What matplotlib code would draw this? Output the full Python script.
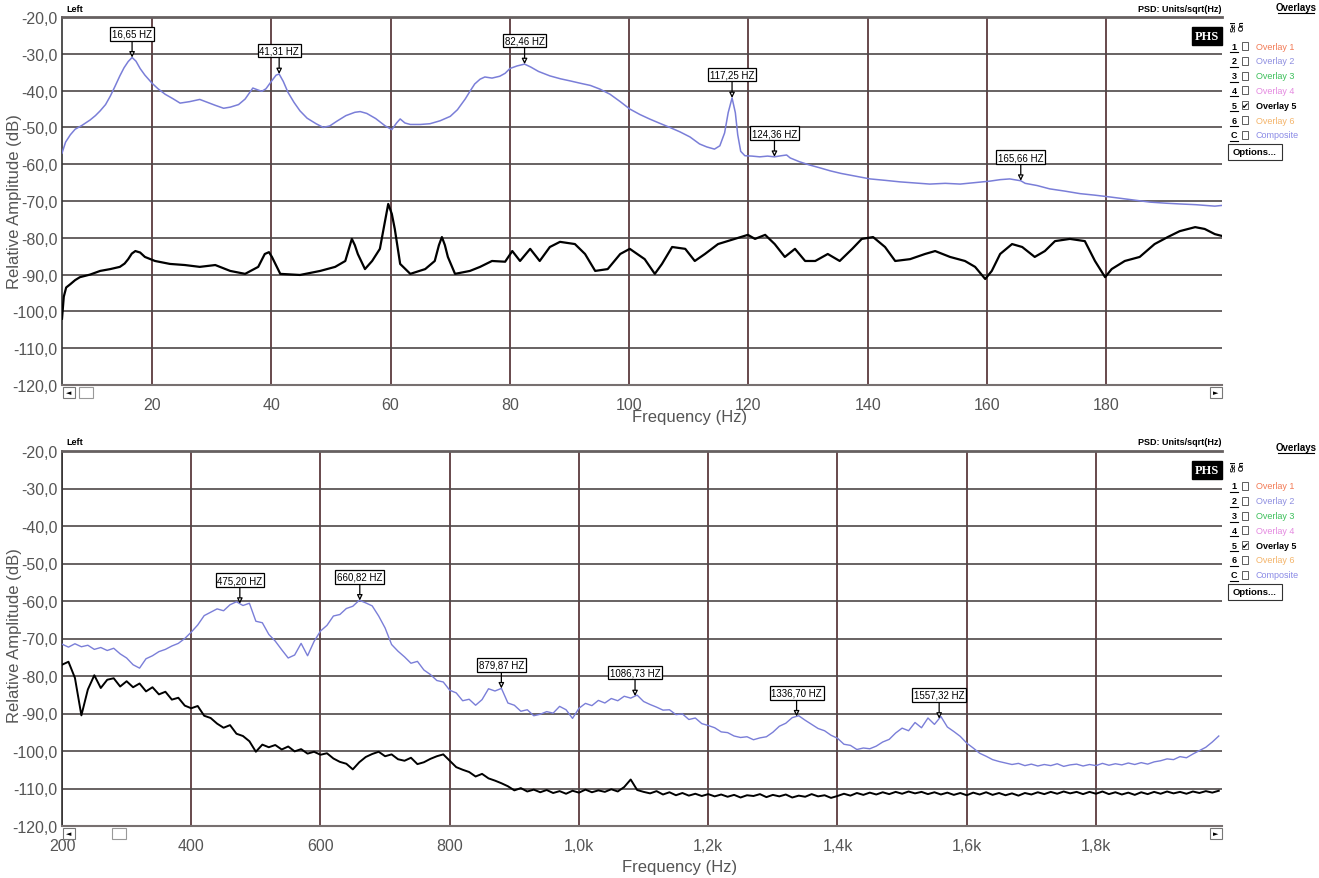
import numpy as np
import matplotlib
matplotlib.use("Agg")
import matplotlib.pyplot as plt
from matplotlib.patches import Rectangle
from matplotlib.lines import Line2D

plt.rcParams["font.family"] = ["Liberation Sans", "DejaVu Sans"]

W, H = 1319, 879

# ---- low band (0-200 Hz) ----
low_blue_hz = [4.9, 5.5, 6.3, 7.1, 8.2, 9.6, 10.5, 11.3, 12.2, 13, 13.8, 14.6, 15.3, 16, 16.65,
               17.3, 18, 18.8, 20, 21, 22.2, 23.5, 24.7, 26.3, 28, 29.3, 30.6, 32, 33.1, 34.5,
               35.6, 36.9, 37.7, 38.4, 39.1, 40, 40.8, 41.31, 42, 42.8, 43.8, 44.8, 46, 47.5,
               48.7, 49.8, 51, 52.5, 54, 54.9, 56, 57.5, 59.1, 60.2, 61, 61.6, 62.4, 63.3, 65,
               66.6, 68.3, 70, 71.2, 72.5, 73.3, 74.1, 75, 75.8, 77, 78.3, 79.2, 80, 81.2, 82.46,
               83.5, 84.8, 86.7, 88.5, 90.2, 91.8, 93.5, 95.1, 96.8, 98.5, 100.1, 101.8, 103.4,
               105, 106.8, 108.5, 110.2, 111.8, 113, 114.3, 115.2, 116, 116.6, 117.25, 117.8,
               118.2, 118.7, 119.4, 120.6, 121.9, 123.2, 124.36, 125.5, 126.4, 127, 128.5, 130.2,
               132, 133.7, 135.5, 137.5, 140.4, 143, 145.4, 148, 150.4, 153, 155.5, 158, 160.5,
               162.2, 163.8, 165.66, 166.4, 168.4, 170.5, 173, 175.6, 178, 180.6, 184, 187.3,
               190, 192.3, 195, 198.2, 199.4]
low_blue_db = [-57, -54, -52, -50.5, -49.5, -48, -46.8, -45.5, -43.8, -41.5, -38.8, -36, -33.8,
               -32.1, -31, -32, -34, -35.8, -38, -39.5, -41, -42.2, -43.4, -43, -42.4, -43.2,
               -44, -44.8, -44.5, -43.8, -42.3, -39.3, -39.8, -40.2, -39.5, -37.5, -35.8, -35.5,
               -37.5, -40.5, -43.2, -45.5, -47.5, -49, -50, -49.6, -48.3, -46.8, -45.9, -45.7,
               -46.2, -47.6, -49.6, -50.6, -48.8, -47.7, -48.8, -49.2, -49.2, -49, -48.2, -47,
               -45.2, -42.3, -40.2, -38.2, -36.9, -36.3, -36.6, -36.1, -35.3, -34, -33.3, -32.8,
               -33.6, -34.8, -36, -36.8, -37.4, -38, -38.6, -39.6, -41, -43, -45, -46.5, -47.7,
               -48.8, -50, -51.2, -52.6, -54.5, -55.3, -55.9, -55, -51.5, -46, -42, -46, -52,
               -56.5, -57.7, -57.8, -58, -57.8, -58, -57.7, -57.5, -58.3, -59.3, -60.2, -61,
               -61.8, -62.5, -63.1, -64, -64.4, -64.8, -65.1, -65.4, -65.2, -65.4, -65, -64.6,
               -64.2, -64, -64.5, -65.2, -65.8, -66.7, -67.3, -68, -68.4, -68.9, -69.6, -70.3,
               -70.6, -70.8, -71, -71.4, -71.2]

low_black_hz = [4.9, 5.2, 5.6, 6.3, 7.1, 7.9, 9.6, 11.3, 13, 14.6, 15.4, 16, 16.6, 17.2, 18, 18.8,
                20.5, 23, 25.5, 28, 30.6, 33.1, 35.6, 37.8, 38.9, 39.6, 40.1, 41.5, 44.8, 48.2,
                50.7, 52.4, 53, 53.5, 54, 54.5, 55.7, 56.9, 58.2, 59, 59.6, 60.2, 60.7, 61.6,
                63.3, 65.8, 67.4, 68.1, 68.6, 69.1, 69.6, 70.8, 73.3, 75, 77, 79.2, 80.4, 81.7,
                83.4, 85, 86.7, 88.4, 90.9, 92.6, 94.3, 96.4, 98.5, 100.1, 102.6, 104.3, 105.5,
                107.2, 109.4, 111, 112.7, 114.9, 117.7, 119.9, 121.1, 122.8, 124.4, 126.1, 127.8,
                129.5, 131.2, 133.3, 135.3, 137.4, 139, 140.9, 142.9, 144.6, 147.1, 149.6, 151.3,
                153.8, 156.3, 158, 159.7, 160.8, 162.2, 164.2, 165.9, 168, 169.7, 171.4, 173.9,
                176.4, 178.1, 179.8, 180.9, 183.1, 185.6, 188.1, 190.3, 192.3, 194.9, 196.5,
                198.2, 199.4]
low_black_db = [-102, -96, -93.5, -92.6, -91.5, -90.7, -90, -89, -88.5, -87.9, -87, -85.8, -84.3,
                -83.6, -84, -85.2, -86.3, -87.1, -87.4, -87.9, -87.4, -89, -89.8, -87.9, -84.4,
                -83.9, -85.2, -89.8, -90.1, -89, -87.9, -86.3, -83, -80.3, -82, -84.4, -88.5,
                -86.3, -83, -76, -70.8, -73.5, -77.6, -87.1, -89.8, -88.5, -86.3, -82, -79.8,
                -82, -85.2, -89.8, -89, -87.9, -86.3, -86.5, -83.6, -86.3, -83, -86.3, -82.5,
                -81.1, -81.7, -84.4, -89, -88.5, -84.4, -83, -85.8, -89.8, -87.1, -82.5, -83,
                -86.3, -84.4, -81.7, -80.3, -79.2, -80.3, -79.2, -81.7, -85.2, -83, -86.3, -86.3,
                -84.4, -86.3, -83, -80.3, -79.8, -82.5, -86.3, -85.8, -84.4, -83.6, -85.2, -86.3,
                -87.9, -91.2, -89, -84.4, -81.7, -82.5, -85.2, -83.6, -80.9, -80.3, -80.9, -86.3,
                -90.7, -88.5, -86.3, -85.2, -81.7, -79.8, -78.2, -77.1, -77.6, -79, -79.5]

low_peaks_hz = [16.65, 41.31, 82.46, 117.25, 124.36, 165.66]
low_peak_labels = ["16,65 HZ", "41,31 HZ", "82,46 HZ", "117,25 HZ", "124,36 HZ", "165,66 HZ"]
low_ticks = [20, 40, 60, 80, 100, 120, 140, 160, 180]
low_tick_labels = ["20", "40", "60", "80", "100", "120", "140", "160", "180"]

# ---- high band (200-2000 Hz), 10 Hz bins starting at 200 Hz ----
high_start_hz = 200
high_bin_hz = 10
high_blue_db = [
    -71.5, -72.3, -71.4, -72.2, -71.8, -72.9, -72.4, -73.2, -72.6, -74.1,
    -75.2, -77.0, -77.9, -75.4, -74.6, -73.5, -72.9, -72.0, -71.3, -70.0,
    -68.3, -66.4, -63.9, -63.0, -62.1, -62.6, -61.0, -60.2, -61.2, -60.6,
    -65.4, -65.8, -68.9, -70.7, -73.0, -75.2, -74.4, -71.3, -74.6, -70.8,
    -68.0, -66.5, -64.0, -63.6, -62.0, -61.4, -59.8, -60.5, -61.3, -64.0,
    -67.2, -71.6, -73.4, -74.9, -76.6, -76.1, -78.4, -79.6, -81.2, -81.6,
    -83.8, -84.5, -86.6, -86.2, -87.8, -86.3, -83.4, -84.0, -83.3, -87.2,
    -87.8, -89.4, -89.0, -90.6, -90.2, -89.5, -89.9, -88.1, -89.0, -91.3,
    -88.6, -87.3, -87.9, -86.5, -87.2, -86.0, -86.6, -85.4, -85.9, -85.1,
    -86.8, -87.6, -88.3, -89.1, -89.0, -90.3, -90.1, -91.6, -91.2, -92.7,
    -93.2, -93.8, -94.9, -95.1, -96.0, -96.4, -96.2, -97.0, -96.5, -96.2,
    -95.0, -93.4, -92.6, -91.1, -90.6, -91.8, -92.9, -94.0, -94.6, -95.8,
    -96.6, -98.2, -98.5, -99.6, -99.2, -99.4, -98.7, -97.6, -96.9, -95.2,
    -93.9, -94.6, -92.4, -93.8, -91.2, -92.9, -90.8, -93.6, -94.8, -96.1,
    -97.9, -99.2, -100.6, -101.4, -102.3, -102.8, -103.2, -103.6, -103.3, -103.9,
    -103.5, -104.0, -103.6, -103.9, -103.4, -104.1, -103.7, -103.5, -104.0, -103.6,
    -103.9, -103.3, -103.8, -103.4, -103.7, -103.2, -103.6, -103.1, -103.5, -102.9,
    -102.6, -102.1, -102.3, -101.5, -101.8, -100.8, -99.9, -99.0, -97.6, -96.0,
]
high_black_db = [
    -77.0, -76.2, -80.5, -90.5, -83.6, -79.8, -83.2, -81.0, -80.6, -82.8,
    -81.4, -83.0, -82.0, -84.1, -83.0, -84.9, -84.2, -86.3, -85.8, -87.9,
    -88.6, -88.0, -90.6, -91.2, -92.7, -93.8, -93.1, -95.4, -96.0, -97.4,
    -100.2, -98.3, -99.0, -98.4, -99.6, -98.8, -100.1, -99.5, -100.7, -100.2,
    -101.0, -100.6, -102.0, -102.9, -103.4, -104.9, -103.0, -101.6, -100.8, -100.2,
    -101.4, -100.9, -102.2, -102.6, -101.8, -103.5, -103.0, -102.1, -101.4, -100.9,
    -102.6, -104.3, -105.0, -105.6, -106.8, -106.1, -107.3, -107.9, -108.6, -109.4,
    -110.5, -109.9, -110.8, -110.3, -111.0, -110.4, -111.2, -110.7, -111.4, -110.6,
    -111.1, -110.3, -111.0, -110.5, -110.9, -110.2, -110.8, -109.6, -107.6, -110.4,
    -110.9, -111.3, -110.7, -111.6, -111.0, -111.8, -111.2, -111.9, -111.4, -112.0,
    -111.5, -112.1, -111.6, -112.2, -111.7, -112.4, -111.8, -112.0, -111.5, -112.3,
    -111.7, -112.1, -111.6, -112.4, -111.9, -112.2, -111.5, -112.1, -111.8, -112.5,
    -112.0, -111.4, -111.9, -111.2, -111.7, -111.1, -111.6, -111.0, -111.5, -110.9,
    -111.4, -110.8, -111.3, -110.9, -111.5, -111.0, -111.6, -111.1, -111.7, -111.2,
    -111.8, -111.1, -111.6, -111.0, -111.7, -111.2, -111.8, -111.3, -111.9, -111.2,
    -111.6, -111.0, -111.5, -110.9, -111.4, -110.8, -111.3, -110.9, -111.5, -110.9,
    -111.4, -110.8, -111.5, -111.0, -111.6, -111.1, -111.7, -111.0, -111.5, -110.9,
    -111.4, -110.8, -111.3, -110.9, -111.4, -110.8, -111.2, -110.7, -111.1, -110.6,
]
high_peaks_hz = [475.20, 660.82, 879.87, 1086.73, 1336.70, 1557.32]
high_peak_labels = ["475,20 HZ", "660,82 HZ", "879,87 HZ", "1086,73 HZ", "1336,70 HZ", "1557,32 HZ"]
high_ticks = [200, 400, 600, 800, 1000, 1200, 1400, 1600, 1800]
high_tick_labels = ["200", "400", "600", "800", "1,0k", "1,2k", "1,4k", "1,6k", "1,8k"]

db_ticks = list(range(-120, -10, 10))

overlay_names = ["Overlay 1", "Overlay 2", "Overlay 3", "Overlay 4", "Overlay 5", "Overlay 6", "Composite"]
overlay_keys = ["1", "2", "3", "4", "5", "6", "C"]
overlay_colors = ["#f27a55", "#8f8fe0", "#3cbf5a", "#e48ae0", "#000000", "#f4b46a", "#8a8ae6"]

BLUE = "#7a7ed8"
HGRID = "#4e4848"
VGRID = "#5c3a3e"
TXT = "#555555"


def px(x, y):
    return x / W, 1 - y / H


def setup_axes(ax, xlim, ticks, tick_labels):
    ax.set_xlim(*xlim)
    ax.set_ylim(-120, -20)
    ax.set_yticks(db_ticks)
    ax.set_yticklabels([f"{v:.1f}".replace(".", ",") for v in db_ticks])
    ax.set_xticks(ticks)
    ax.set_xticklabels(tick_labels)
    ax.tick_params(axis="both", length=0, labelsize=11.5, labelcolor=TXT)
    ax.tick_params(axis="y", pad=3)
    ax.tick_params(axis="x", pad=9)
    ax.xaxis.grid(True, color=VGRID, lw=1.3)
    ax.yaxis.grid(True, color=HGRID, lw=1.2)
    ax.set_axisbelow(True)
    ax.spines["right"].set_visible(False)
    ax.spines["top"].set_color("#666060")
    ax.spines["top"].set_linewidth(2.0)
    ax.spines["bottom"].set_color("#777070")
    ax.spines["bottom"].set_linewidth(1.5)
    ax.spines["left"].set_color("#333333")
    ax.spines["left"].set_linewidth(1.2)


def mark_peaks(ax, hz, db, peaks, labels):
    for f, lab in zip(peaks, labels):
        tip = np.interp(f, hz, db)
        ax.annotate(lab, xy=(f, tip), xytext=(0, 17), textcoords="offset points",
                    ha="center", va="center", fontsize=7, color="black",
                    bbox=dict(boxstyle="square,pad=0.18", fc="white", ec="black", lw=0.9),
                    arrowprops=dict(arrowstyle="-|>", color="black", lw=0.9, fc="white",
                                    mutation_scale=8, shrinkA=0, shrinkB=0))


def draw_side(fig, top, ax_top_px):
    # header strip above the axes
    fig.text(*px(66, ax_top_px - 9), "Left", fontsize=6.5, fontweight="bold", va="center")
    fig.text(*px(1221, ax_top_px - 9), "PSD: Units/sqrt(Hz)", fontsize=6.5, fontweight="bold",
             ha="right", va="center")
    fig.text(*px(1207, ax_top_px + 19), "PHS", fontsize=9, color="white", fontweight="bold",
             family="Liberation Serif", ha="center", va="center",
             bbox=dict(boxstyle="square,pad=0.25", fc="black", ec="black"))

    # overlay selector
    fig.text(*px(1296, top), "Overlays", fontsize=7, fontweight="bold", ha="center", va="center")
    fig.add_artist(Line2D([1278 / W, 1314 / W], [1 - (top + 6) / H] * 2, color="black", lw=0.8))
    fig.text(*px(1234, top + 18), "Sel", fontsize=5.5, rotation=90, ha="center", va="center",
             fontweight="bold")
    fig.text(*px(1242, top + 18), "On", fontsize=5.5, rotation=90, ha="center", va="center",
             fontweight="bold")
    for i, (k, name, col) in enumerate(zip(overlay_keys, overlay_names, overlay_colors)):
        y = top + 39 + i * 14.8
        fig.text(*px(1234, y), k, fontsize=6.5, fontweight="bold", ha="center", va="center")
        fig.add_artist(Line2D([1230 / W, 1238 / W], [1 - (y + 6) / H] * 2, color="black", lw=0.8))
        fig.add_artist(Rectangle(px(1242, y + 4), 6 / W, 8 / H, fill=False, ec="#444444", lw=0.6))
        if name == "Overlay 5":
            fig.text(*px(1245, y), "\u2714", fontsize=6, ha="center", va="center",
                     family="DejaVu Sans")
        fig.text(*px(1256, y), name, fontsize=6.5, color=col, va="center",
                 fontweight="bold" if name == "Overlay 5" else "normal")
    y = top + 39 + 7 * 14.8 + 2
    fig.add_artist(Rectangle(px(1228, y + 8), 54 / W, 16 / H, fill=False, ec="#333333", lw=0.8))
    fig.text(*px(1255, y), "Options...", fontsize=6.8, fontweight="bold", ha="center", va="center")


def draw_scroll(fig, y, thumb_x):
    fig.add_artist(Rectangle(px(63, y + 11), 12 / W, 11 / H, fill=False, ec="#777777", lw=0.8))
    fig.text(*px(69, y + 5.5), "\u25c4", fontsize=5, ha="center", va="center", family="DejaVu Sans")
    fig.add_artist(Rectangle(px(thumb_x, y + 11), 14 / W, 11 / H, fill=False, ec="#999999", lw=0.8))
    fig.add_artist(Rectangle(px(1210, y + 11), 12 / W, 11 / H, fill=False, ec="#777777", lw=0.8))
    fig.text(*px(1216, y + 5.5), "\u25ba", fontsize=5, ha="center", va="center", family="DejaVu Sans")


fig = plt.figure(figsize=(W / 100, H / 100), dpi=100)
ax_low = fig.add_axes([62 / W, 1 - 386 / H, 1160 / W, 368 / H])
ax_high = fig.add_axes([62 / W, 1 - 827 / H, 1160 / W, 375 / H])

setup_axes(ax_low, (4.9, 199.4), low_ticks, low_tick_labels)
ax_low.plot(low_blue_hz, low_blue_db, color=BLUE, lw=1.1, zorder=3)
ax_low.plot(low_black_hz, low_black_db, color="black", lw=1.6, zorder=4)
mark_peaks(ax_low, low_blue_hz, low_blue_db, low_peaks_hz, low_peak_labels)

high_hz = high_start_hz + high_bin_hz * np.arange(len(high_blue_db))
setup_axes(ax_high, (200, 1995), high_ticks, high_tick_labels)
ax_high.plot(high_hz, high_blue_db, color=BLUE, lw=1.0, zorder=3)
ax_high.plot(high_hz, high_black_db, color="black", lw=1.4, zorder=4)
mark_peaks(ax_high, high_hz, high_blue_db, high_peaks_hz, high_peak_labels)

for y0, ax_top_px in ((0, 18), (440, 452)):
    fig.text(*px(15, ax_top_px + 184), "Relative Amplitude (dB)", rotation=90, fontsize=12,
             color=TXT, ha="center", va="center")
    draw_side(fig, y0 + 8, ax_top_px)
fig.text(*px(690, 418), "Frequency (Hz)", fontsize=12, color=TXT, ha="center", va="center")
fig.text(*px(680, 868), "Frequency (Hz)", fontsize=12, color=TXT, ha="center", va="center")

draw_scroll(fig, 388, 79)
draw_scroll(fig, 829, 112)

fig.savefig("out.png", dpi=100, facecolor="white")
